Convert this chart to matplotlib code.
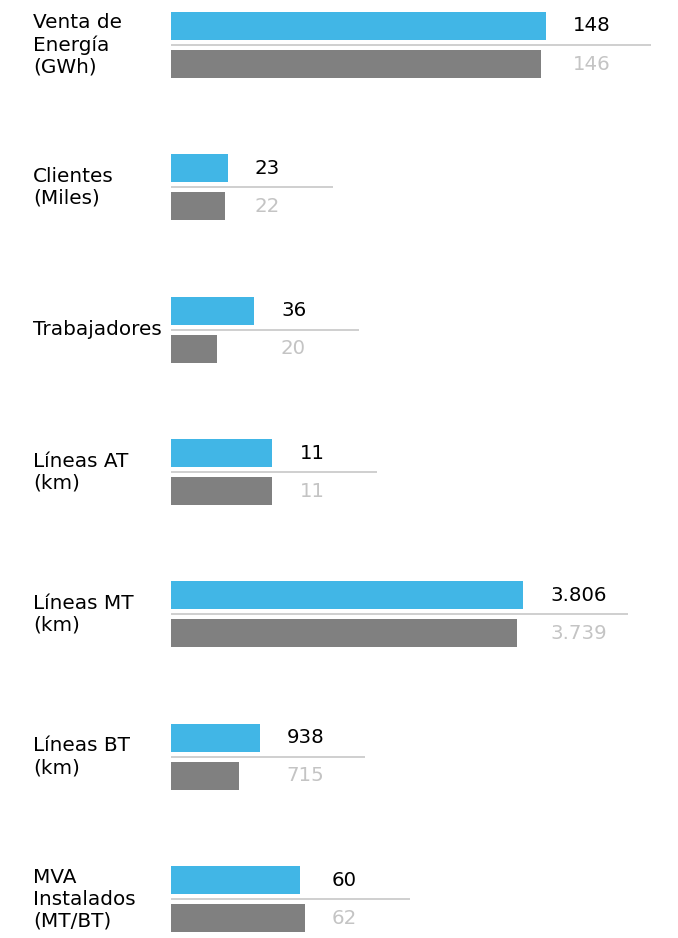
import matplotlib
matplotlib.use("Agg")
import matplotlib.pyplot as plt

# datos
categorias = ["Venta de\nEnergía\n(GWh)", "Clientes\n(Miles)", "Trabajadores",
              "Líneas AT\n(km)", "Líneas MT\n(km)", "Líneas BT\n(km)",
              "MVA\nInstalados\n(MT/BT)"]
actual = [148, 23, 36, 11, 3806, 938, 60]
anterior = [146, 22, 20, 11, 3739, 715, 62]
# cada fila tiene su propia escala (máximo del eje)
escala = [200, 205, 220, 55, 5480, 5370, 235]

AZUL = "#41b6e6"
GRIS = "#808080"
LINEA = "#cccccc"
GRIS_TXT = "#c4c4c4"

W, H = 678, 938
fig = plt.figure(figsize=(W / 100, H / 100), dpi=100)
plt.rcParams['font.family'] = ['DejaVu Sans']

x0 = 171
ancho = W - x0
top0, top_last = 12, 866
paso = (top_last - top0) / (len(categorias) - 1)


def fmt(v):
    return f"{v:,}".replace(",", ".")


for i in range(len(categorias)):
    top = top0 + i * paso          # borde superior de la barra azul
    ax_top = top - 5
    ax_h = 76
    ax = fig.add_axes([x0 / W, 1 - (ax_top + ax_h) / H, ancho / W, ax_h / H])
    ax.set_xlim(0, escala[i])
    ax.set_ylim(-0.5, 1.5)
    ax.axis("off")

    ax.barh(1, actual[i], height=28 / 38, color=AZUL, left=0)
    ax.barh(0, anterior[i], height=28 / 38, color=GRIS, left=0)

    px = escala[i] / ancho          # unidades por pixel
    fin = max(actual[i], anterior[i])
    ax.plot([0, fin + 105 * px], [0.5, 0.5], color=LINEA, lw=1.3,
            solid_capstyle="butt", zorder=0)

    ax.text(fin + 27 * px, 1, fmt(actual[i]), ha="left", va="center",
            fontsize=14.2, color="black")
    ax.text(fin + 27 * px, 0, fmt(anterior[i]), ha="left", va="center",
            fontsize=14.2, color=GRIS_TXT)

    fig.text(33 / W, 1 - (top + 33) / H, categorias[i], ha="left", va="center",
             fontsize=14.4, color="black", linespacing=1.2)

fig.savefig("out.png", dpi=100)
